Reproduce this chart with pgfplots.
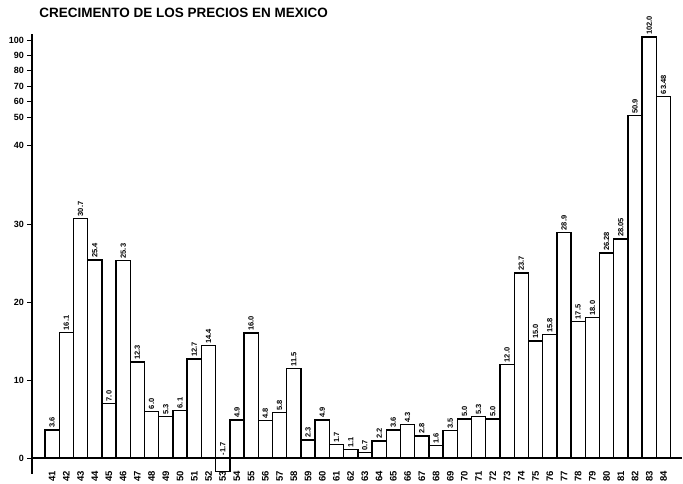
\documentclass[border=0pt]{standalone}
\usepackage{fontspec}
\setmainfont{Liberation Sans}
\usepackage{pgfplots}
\usepackage{pgfplotstable}
\pgfplotsset{compat=1.18}
\pgfplotstableread{
x y lab
41 3.6 3.6
42 16.1 16.1
43 30.7 30.7
44 25.4 25.4
45 7.0 7.0
46 25.3 25.3
47 12.3 12.3
48 6.0 6.0
49 5.3 5.3
50 6.1 6.1
51 12.7 12.7
52 14.4 14.4
53 -1.7 {}
54 4.9 4.9
55 16.0 16.0
56 4.8 4.8
57 5.8 5.8
58 11.5 11.5
59 2.3 2.3
60 4.9 4.9
61 1.7 1.7
62 1.1 1.1
63 0.7 0.7
64 2.2 2.2
65 3.6 3.6
66 4.3 4.3
67 2.8 2.8
68 1.6 1.6
69 3.5 3.5
70 5.0 5.0
71 5.3 5.3
72 5.0 5.0
73 12.0 12.0
74 23.7 23.7
75 15.0 15.0
76 15.8 15.8
77 28.9 28.9
78 17.5 17.5
79 18.0 18.0
80 26.28 26.28
81 28.05 28.05
82 50.9 50.9
83 102.0 102.0
84 63.48 63.48
}\datapos
\pgfplotstableread{
x y lab
53 0 -1.7
}\negLabel
\begin{document}
\begin{tikzpicture}
\begin{axis}[
  scale only axis,
  width=650pt, height=439.8pt,
  xmin=39.6, xmax=85.3,
  ymin=-2, ymax=104,
  y coord trafo/.code={\pgfmathparse{(#1<=40) ? (#1) : ((#1<=50) ? (40+(#1-40)*0.37) : (43.7+(#1-50)*0.197))}},
  y coord inv trafo/.code={\pgfmathparse{(#1<=40) ? (#1) : ((#1<=43.7) ? (40+(#1-40)/0.37) : (50+(#1-43.7)/0.197))}},
  axis lines*=left,
  x axis line style={draw=none},
  y axis line style={line width=1.6pt},
  ytick={0,10,20,30,40,50,60,70,80,90,100},
  yticklabels={0,10,20,30,40,50,60,70,80,90,100},
  extra y ticks={0},
  extra y tick labels={},
  extra y tick style={grid=major, major grid style={line width=2pt, black}, major tick length=0pt},
  ytick style={line width=0.8pt, black},
  major tick length=5pt,
  tick align=outside,
  xtick={41,...,84},
  xticklabels={41,42,43,44,45,46,47,48,49,50,51,52,53,54,55,56,57,58,59,60,61,62,63,64,65,66,67,68,69,70,71,72,73,74,75,76,77,78,79,80,81,82,83,84},
  x tick style={draw=none},
  xticklabel shift=-10pt,
  xticklabel style={rotate=90, anchor=east, font=\bfseries\fontsize{9.5}{10}\selectfont, inner sep=2pt},
  yticklabel style={font=\bfseries\fontsize{9}{10}\selectfont, inner sep=1pt, xshift=-2pt, text width=23pt, align=right},
  /pgf/number format/assume math mode=true,
  ybar, bar width=1, bar shift=0pt,
  clip=false,
  title={\bfseries\fontsize{13.5}{15}\selectfont CRECIMENTO DE LOS PRECIOS EN MEXICO},
  title style={at={(0,1)}, anchor=base west, xshift=7pt, yshift=10pt, inner sep=0pt, text height=18pt},
]
\addplot[draw=black, fill=white, line width=1.4pt,
  point meta=explicit symbolic,
  nodes near coords,
  every node near coord/.append style={rotate=90, anchor=west, font=\bfseries\fontsize{7.5}{8}\selectfont, inner sep=1.5pt}]
  table[x=x, y=y, meta=lab] {\datapos};
\addplot[draw=none, fill=none,
  point meta=explicit symbolic,
  nodes near coords,
  every node near coord/.append style={rotate=90, anchor=west, font=\bfseries\fontsize{7.5}{8}\selectfont, inner sep=2.5pt}]
  table[x=x, y=y, meta=lab] {\negLabel};
\end{axis}
\end{tikzpicture}
\end{document}
